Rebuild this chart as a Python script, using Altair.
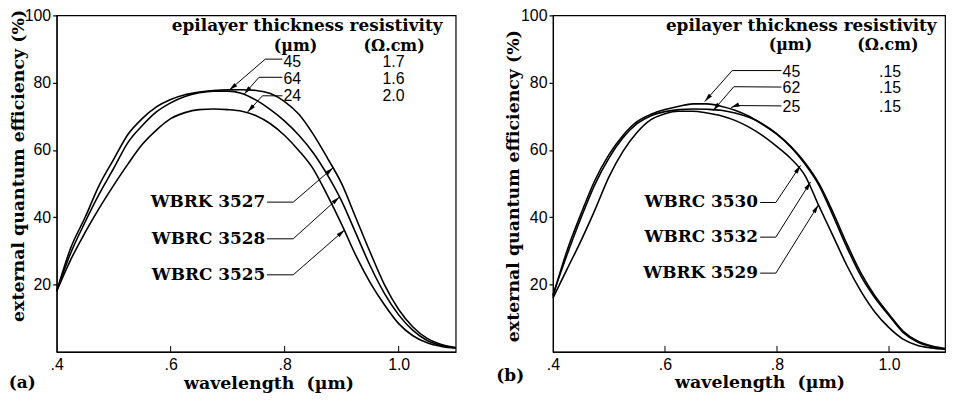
import math
import altair as alt
import pandas as pd

# ---------------- data ----------------
wavelength = [0.40, 0.425, 0.45, 0.475, 0.50, 0.525, 0.55, 0.575, 0.60, 0.625,
              0.65, 0.675, 0.70, 0.725, 0.75, 0.775, 0.80, 0.825, 0.85, 0.875,
              0.90, 0.925, 0.95, 0.975, 1.00, 1.025, 1.05, 1.075, 1.10]

# panel (a)
wbrk_3527 = [18.0, 31.0, 40.0, 49.6, 57.2, 64.6, 69.3, 72.8, 75.0, 76.4,
             77.2, 77.7, 77.9, 77.9, 77.7, 76.8, 74.4, 70.6, 64.7, 57.6,
             50.0, 39.8, 29.6, 20.0, 12.6, 7.4, 4.0, 2.2, 1.3]
wbrc_3528 = [18.0, 29.5, 38.6, 47.0, 54.5, 62.2, 67.2, 71.3, 74.0, 75.9,
             77.0, 77.5, 77.5, 76.8, 74.8, 72.0, 68.6, 64.4, 59.2, 52.6,
             44.8, 35.2, 25.6, 17.4, 11.0, 6.4, 3.4, 1.9, 1.2]
wbrc_3525 = [18.0, 27.5, 35.5, 42.8, 49.5, 55.8, 61.6, 65.9, 69.3, 71.1,
             72.0, 72.2, 72.0, 71.5, 70.2, 67.8, 64.3, 59.8, 54.4, 46.5,
             37.9, 28.6, 20.6, 14.0, 8.4, 4.8, 2.7, 1.6, 1.1]

# panel (b)
wbrc_3530 = [16.5, 30.0, 41.0, 51.0, 58.6, 64.3, 68.4, 70.6, 72.0, 73.0,
             73.7, 73.7, 73.0, 71.8, 70.0, 67.5, 64.6, 60.8, 55.8, 49.5,
             40.5, 31.0, 22.5, 16.0, 10.8, 5.8, 3.0, 1.6, 0.9]
wbrc_3532 = [17.0, 28.8, 39.8, 49.8, 57.6, 63.6, 67.8, 70.2, 71.4, 72.0,
             72.2, 72.1, 71.8, 71.0, 69.7, 67.7, 64.8, 61.0, 56.2, 50.0,
             41.5, 32.0, 23.4, 16.6, 11.2, 6.2, 3.3, 1.8, 1.0]
wbrk_3529 = [16.0, 24.5, 33.0, 42.2, 52.0, 59.6, 65.2, 69.0, 70.8, 71.5,
             71.5, 71.0, 70.2, 68.8, 66.8, 64.2, 61.0, 57.4, 52.4, 43.3,
             34.5, 25.6, 18.0, 11.8, 7.2, 3.8, 2.0, 1.2, 0.8]

x_ticks = [0.4, 0.6, 0.8, 1.0]
y_ticks = [20, 40, 60, 80, 100]

header_title = "epilayer thickness resistivity"
unit_labels = ["(µm)", "(Ω.cm)"]
thick_a = ["45", "64", "24"]
resist_a = ["1.7", "1.6", "2.0"]
thick_b = ["45", "62", "25"]
resist_b = [".15", ".15", ".15"]
samples_a = ["WBRK 3527", "WBRC 3528", "WBRC 3525"]
samples_b = ["WBRC 3530", "WBRC 3532", "WBRK 3529"]
panel_labels = ["(a)", "(b)"]

# ---------------- annotation placement (data coordinates) ----------------
layout_a = dict(
    header=(1.077, 96.9), units_x=[0.819, 0.992], units_y=91.0,
    thick_x=0.798, resist_x=0.991, rows_y=[86.0, 81.1, 75.9],
    sample_x=0.766, sample_y=[44.5, 33.6, 22.9], panel=(0.316, -9.4),
    leaders=[[(0.796, 87.0), (0.766, 87.0), (0.703, 77.8)],
             [(0.796, 81.6), (0.755, 81.6), (0.729, 76.6)],
             [(0.796, 76.1), (0.761, 76.1), (0.735, 71.3)],
             [(0.769, 44.5), (0.815, 44.5), (0.885, 54.7)],
             [(0.769, 33.6), (0.815, 33.6), (0.896, 46.0)],
             [(0.769, 22.9), (0.815, 22.9), (0.905, 36.2)]],
    y_title=(-33, 0.446), x_title=(0.531, 31.5),
)
layout_b = dict(
    header=(1.085, 96.7), units_x=[0.824, 0.998], units_y=91.2,
    thick_x=0.810, resist_x=1.002, rows_y=[83.3, 78.4, 72.8],
    sample_x=0.766, sample_y=[44.4, 34.1, 23.4], panel=(0.299, -7.1),
    leaders=[[(0.808, 83.6), (0.720, 83.6), (0.671, 74.4)],
             [(0.808, 78.7), (0.723, 78.8), (0.686, 71.7)],
             [(0.808, 73.1), (0.727, 73.2), (0.718, 72.6)],
             [(0.770, 44.4), (0.798, 44.4), (0.842, 55.4)],
             [(0.770, 34.1), (0.798, 34.1), (0.860, 50.5)],
             [(0.770, 23.4), (0.798, 23.4), (0.874, 43.7)]],
    y_title=(-35, 0.506), x_title=(0.527, 30.5),
)

X_MIN, X_MAX = 0.4, 1.1
H = 339
W_A, W_B = 402, 395
ARROW = "M0,0 L0.45,1.8 L-0.45,1.8 Z"
SERIF = "DejaVu Serif"
SANS = "Liberation Sans"


def build_panel(series, names, thick, resist, samples, plabel, lay, width):
    sx = width / (X_MAX - X_MIN)
    sy = H / 100.0

    rows = []
    for name, vals in zip(names, series):
        for x, y in zip(wavelength, vals):
            rows.append({"x": x, "y": y, "series": name})
    curves_df = pd.DataFrame(rows)

    xenc = alt.X(
        "x:Q",
        scale=alt.Scale(domain=[X_MIN, X_MAX], nice=False, zero=False),
        axis=alt.Axis(
            values=x_ticks,
            labelExpr="replace(format(datum.value, '.1f'), '0.', '.')",
            ticks=False, labelPadding=5, labelFlush=False,
            titleX=lay["x_title"][0] * width, titleY=lay["x_title"][1],
            titleBaseline="middle", titleAlign="center",
        ),
        title="wavelength\u00a0 (µm)",
    )
    yenc = alt.Y(
        "y:Q",
        scale=alt.Scale(domain=[0, 100], nice=False, zero=False),
        axis=alt.Axis(
            values=y_ticks, tickSize=4, labelPadding=2,
            titleX=lay["y_title"][0], titleY=lay["y_title"][1] * H,
            titleAngle=270, titleBaseline="alphabetic", titleAlign="center",
        ),
        title="external quantum efficiency (%)",
    )

    curves = alt.Chart(curves_df).mark_line(
        color="black", strokeWidth=1.6, interpolate="monotone"
    ).encode(x=xenc, y=yenc, detail="series:N")

    # inward ticks on the wavelength axis
    tick_df = pd.DataFrame({"x": [t for t in x_ticks if t > X_MIN]})
    tick_df["y"] = 0.0
    tick_df["y2"] = 6.0 / sy
    ticks = alt.Chart(tick_df).mark_rule(color="black", strokeWidth=1).encode(
        x="x:Q", y="y:Q", y2="y2:Q")

    # leader lines and arrowheads
    lrows, arows = [], []
    for i, pts in enumerate(lay["leaders"]):
        for j, (x, y) in enumerate(pts):
            lrows.append({"x": x, "y": y, "lid": i, "ord": j})
        (x1, y1), (x2, y2) = pts[-2], pts[-1]
        dx = (x2 - x1) * sx
        dys = -(y2 - y1) * sy
        ang = math.degrees(math.atan2(dx, -dys)) % 360
        arows.append({"x": x2, "y": y2, "angle": ang})
    leaders = alt.Chart(pd.DataFrame(lrows)).mark_line(
        color="black", strokeWidth=1).encode(
        x="x:Q", y="y:Q", detail="lid:N", order="ord:Q")
    arrows = alt.Chart(pd.DataFrame(arows)).mark_point(
        shape=ARROW, filled=True, color="black", size=90, opacity=1,
        strokeWidth=0).encode(
        x="x:Q", y="y:Q", angle=alt.Angle("angle:Q", scale=None))

    # texts
    header = alt.Chart(pd.DataFrame(
        [{"x": lay["header"][0], "y": lay["header"][1], "t": header_title}])
    ).mark_text(font=SERIF, fontWeight="bold", fontSize=17, align="right",
                baseline="middle", color="black").encode(x="x:Q", y="y:Q", text="t:N")
    units = alt.Chart(pd.DataFrame(
        [{"x": ux, "y": lay["units_y"], "t": t} for ux, t in zip(lay["units_x"], unit_labels)])
    ).mark_text(font=SERIF, fontWeight="bold", fontSize=16, align="center",
                baseline="middle", color="black").encode(x="x:Q", y="y:Q", text="t:N")
    thick_t = alt.Chart(pd.DataFrame(
        [{"x": lay["thick_x"], "y": ry, "t": t} for ry, t in zip(lay["rows_y"], thick)])
    ).mark_text(font=SANS, fontSize=16, align="left", baseline="middle",
                color="black").encode(x="x:Q", y="y:Q", text="t:N")
    resist_t = alt.Chart(pd.DataFrame(
        [{"x": lay["resist_x"], "y": ry, "t": t} for ry, t in zip(lay["rows_y"], resist)])
    ).mark_text(font=SANS, fontSize=16, align="center", baseline="middle",
                color="black").encode(x="x:Q", y="y:Q", text="t:N")
    samples_t = alt.Chart(pd.DataFrame(
        [{"x": lay["sample_x"], "y": sy_, "t": t} for sy_, t in zip(lay["sample_y"], samples)])
    ).mark_text(font=SERIF, fontWeight="bold", fontSize=17, align="right",
                baseline="middle", color="black").encode(x="x:Q", y="y:Q", text="t:N")
    panel_t = alt.Chart(pd.DataFrame(
        [{"x": lay["panel"][0], "y": lay["panel"][1], "t": plabel}])
    ).mark_text(font=SERIF, fontWeight="bold", fontSize=17, align="left",
                baseline="middle", color="black").encode(x="x:Q", y="y:Q", text="t:N")

    return alt.layer(curves, ticks, leaders, arrows, header, units, thick_t,
                     resist_t, samples_t, panel_t).properties(width=width, height=H)


left = build_panel([wbrk_3527, wbrc_3528, wbrc_3525], samples_a, thick_a, resist_a,
                   samples_a, panel_labels[0], layout_a, W_A)
right = build_panel([wbrc_3530, wbrc_3532, wbrk_3529], samples_b, thick_b, resist_b,
                    samples_b, panel_labels[1], layout_b, W_B)

chart = alt.hconcat(left, right, spacing=36).properties(
    padding={"top": -3, "left": 0, "right": 0, "bottom": 0}, background="white"
).configure_view(
    stroke="black", strokeWidth=1.2
).configure_axis(
    grid=False, domainColor="black", domainWidth=1.2, tickColor="black",
    tickWidth=1.2, labelColor="black", labelFont=SANS, labelFontSize=16,
    titleColor="black", titleFont=SERIF, titleFontWeight="bold", titleFontSize=17.5,
)

chart.save("out.html", embed_options={"renderer": "svg", "actions": False})
